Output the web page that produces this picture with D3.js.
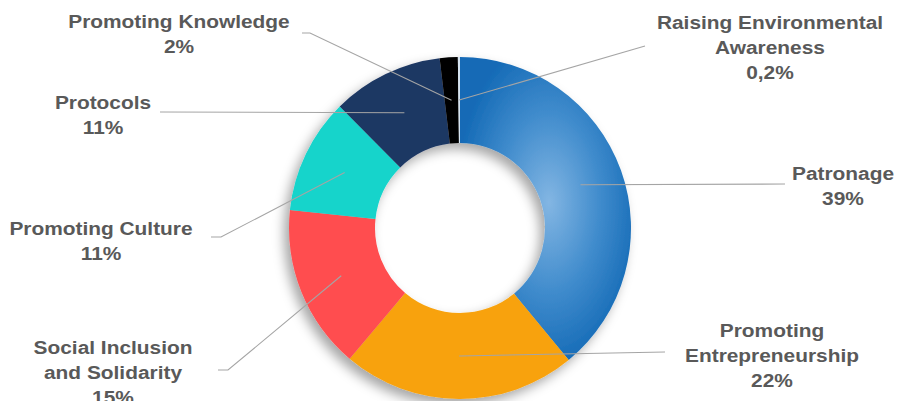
<!DOCTYPE html>
<html>
<head>
<meta charset="utf-8">
<script src="https://cdn.jsdelivr.net/npm/d3@7"></script>
<style>
  html, body { margin: 0; padding: 0; background: #ffffff; }
  svg { display: block; }
</style>
</head>
<body>
<svg id="chart" width="899" height="401"></svg>
<script>
// ---- data ----
const categories = [
  "Patronage",
  "Promoting Entrepreneurship",
  "Social Inclusion and Solidarity",
  "Promoting Culture",
  "Protocols",
  "Promoting Knowledge",
  "Raising Environmental Awareness"
];
const values = [39, 22.1, 15.5, 10.9, 10.5, 1.7, 0.2];
const valueLabels = ["39%", "22%", "15%", "11%", "11%", "2%", "0,2%"];
const labelLines = [
  ["Patronage", "39%"],
  ["Promoting", "Entrepreneurship", "22%"],
  ["Social Inclusion", "and Solidarity", "15%"],
  ["Promoting Culture", "11%"],
  ["Protocols", "11%"],
  ["Promoting Knowledge", "2%"],
  ["Raising Environmental", "Awareness", "0,2%"]
];
const colors = ["url(#patGrad)", "#f8a20c", "#ff4d4f", "#13d4cb", "#1f3763", "#000000", "#d6e4f1"];

// ---- layout ----
const cx = 460, cy = 228, rOuter = 171, rInner = 85;
// label anchor (center x, first baseline y) and leader line path end points
const labelLayout = [
  { x: 843, y: 180, line: [[785, 184]] },
  { x: 772, y: 337, line: [[665, 352]] },
  { x: 113, y: 354, line: [[228, 370], [218, 370]] },
  { x: 101, y: 235, line: [[221, 237], [211, 237]] },
  { x: 103, y: 109, line: [[160, 112]] },
  { x: 179, y: 28,  line: [[310, 33], [302, 33]] },
  { x: 770, y: 29,  line: [[645, 46]] }
];

const svg = d3.select("#chart");
const defs = svg.append("defs");

const grad = defs.append("radialGradient")
  .attr("id", "patGrad")
  .attr("gradientUnits", "objectBoundingBox")
  .attr("cx", 0.52).attr("cy", 0.48).attr("r", 0.55);
grad.append("stop").attr("offset", "0%").attr("stop-color", "#83b6e3");
grad.append("stop").attr("offset", "55%").attr("stop-color", "#3f8bcc");
grad.append("stop").attr("offset", "100%").attr("stop-color", "#146ab6");

const shadow = defs.append("filter").attr("id", "shadow")
  .attr("x", "-20%").attr("y", "-20%").attr("width", "140%").attr("height", "140%");
shadow.append("feDropShadow")
  .attr("dx", -5).attr("dy", 6).attr("stdDeviation", 6)
  .attr("flood-color", "#000").attr("flood-opacity", 0.35);

const pie = d3.pie().sort(null).value(d => d)(values);
const arc = d3.arc().innerRadius(rInner).outerRadius(rOuter);

const g = svg.append("g").attr("transform", `translate(${cx},${cy})`);
const ring = g.append("g").attr("filter", "url(#shadow)");
ring.selectAll("path")
  .data(pie)
  .join("path")
  .attr("d", arc)
  .attr("fill", (d, i) => colors[i]);

// leader lines
const lineGen = d3.line();
pie.forEach((d, i) => {
  const c = arc.centroid(d);
  const pts = [[cx + c[0], cy + c[1]], ...labelLayout[i].line];
  svg.append("path")
    .attr("d", lineGen(pts))
    .attr("fill", "none")
    .attr("stroke", "#a5a5a5")
    .attr("stroke-width", 1.1);
});

// labels
categories.forEach((cat, i) => {
  const L = labelLayout[i];
  const t = svg.append("text")
    .attr("transform", `translate(${L.x},${L.y}) scale(1.16,1)`)
    .attr("text-anchor", "middle")
    .attr("font-family", "'Liberation Sans', Arial, sans-serif")
    .attr("font-weight", "bold")
    .attr("font-size", 18)
    .attr("fill", "#595959");
  labelLines[i].forEach((s, k) => {
    t.append("tspan").attr("x", 0).attr("y", k * 25).text(s);
  });
});
</script>
</body>
</html>
